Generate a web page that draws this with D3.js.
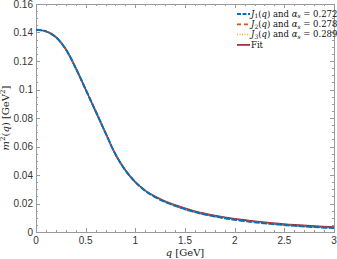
<!DOCTYPE html>
<html>
<head>
<meta charset="utf-8">
<script src="https://cdn.jsdelivr.net/npm/d3@7"></script>
<style>
body { margin: 0; background: #fff; }
text { font-family: "Liberation Sans", Arial, sans-serif; }
.tex { font-family: "DejaVu Serif", "Liberation Serif", serif; }
</style>
</head>
<body>
<script>
// values
var qValues = [0, 0.1, 0.2, 0.3, 0.4, 0.5, 0.6, 0.7, 0.8, 0.9, 1.0, 1.1, 1.2, 1.3, 1.4, 1.5, 1.6, 1.7, 1.8, 1.9, 2.0, 2.2, 2.4, 2.6, 2.8, 3.0];
var j1Values = [0.1419, 0.1408, 0.1368, 0.1282, 0.1150, 0.1000, 0.0848, 0.0695, 0.0545, 0.0433, 0.0350, 0.0289, 0.0245, 0.0211, 0.0184, 0.0160, 0.0140, 0.0123, 0.0109, 0.0097, 0.0086, 0.0069, 0.0055, 0.0044, 0.0035, 0.0028];
var j2Values = [0.1419, 0.1408, 0.1368, 0.1282, 0.1150, 0.1000, 0.0848, 0.0695, 0.0545, 0.0433, 0.0350, 0.0289, 0.0246, 0.0212, 0.0185, 0.0161, 0.0141, 0.0124, 0.0110, 0.0098, 0.0087, 0.0070, 0.0056, 0.0045, 0.0036, 0.0029];
var j3Values = [0.1419, 0.1408, 0.1368, 0.1282, 0.1150, 0.1000, 0.0848, 0.0695, 0.0545, 0.0433, 0.0350, 0.0290, 0.0247, 0.0213, 0.0186, 0.0162, 0.0142, 0.0125, 0.0111, 0.0099, 0.0088, 0.0071, 0.0057, 0.0046, 0.0037, 0.0030];
var fitValues = [0.1419, 0.1408, 0.1368, 0.1282, 0.1150, 0.1000, 0.0848, 0.0695, 0.0545, 0.0433, 0.0351, 0.0291, 0.0249, 0.0216, 0.0189, 0.0166, 0.0146, 0.0129, 0.0115, 0.0103, 0.0092, 0.0075, 0.0061, 0.0050, 0.0041, 0.0034];
var seriesNames = ["J1", "J2", "J3", "Fit"];
var alphaValues = ["0.272", "0.278", "0.289"];
var xTicks = [0, 0.5, 1, 1.5, 2, 2.5, 3];
var yTicks = [0, 0.02, 0.04, 0.06, 0.08, 0.1, 0.12, 0.14, 0.16];

var width = 337, height = 259;
var mLeft = 36, mRight = 334, mTop = 4, mBottom = 232;

var svg = d3.select("body").append("svg")
	.attr("width", width)
	.attr("height", height);

var x = d3.scaleLinear().domain([0, 3]).range([mLeft, mRight]);
var y = d3.scaleLinear().domain([0, 0.16]).range([mBottom, mTop]);

var axisColor = "#9a9a9a";
var labelColor = "#333";

// frame
svg.append("rect")
	.attr("x", mLeft + 0.5).attr("y", mTop + 0.5)
	.attr("width", mRight - mLeft).attr("height", mBottom - mTop)
	.attr("fill", "none").attr("stroke", axisColor).attr("stroke-width", 1);

// ticks (inward, all four sides)
var xMinor = d3.range(0, 3.001, 0.1);
var yMinor = d3.range(0, 0.1601, 0.005);

function tickLines(vals, len, horizontal){
	vals.forEach(function(v){
		if(horizontal){
			var xx = Math.round(x(v)) + 0.5;
			svg.append("line").attr("x1", xx).attr("x2", xx).attr("y1", mBottom).attr("y2", mBottom - len).attr("stroke", axisColor);
			svg.append("line").attr("x1", xx).attr("x2", xx).attr("y1", mTop).attr("y2", mTop + len).attr("stroke", axisColor);
		} else {
			var yy = Math.round(y(v)) + 0.5;
			svg.append("line").attr("x1", mLeft).attr("x2", mLeft + len).attr("y1", yy).attr("y2", yy).attr("stroke", axisColor);
			svg.append("line").attr("x1", mRight).attr("x2", mRight - len).attr("y1", yy).attr("y2", yy).attr("stroke", axisColor);
		}
	});
}
tickLines(xMinor, 2, true);
tickLines(xTicks, 4, true);
tickLines(yMinor, 2, false);
tickLines(yTicks, 4, false);

svg.selectAll("text.xt")
	.data(xTicks)
	.enter()
		.append("text")
		.attr("x", function(d){return x(d)})
		.attr("y", mBottom + 12)
		.attr("text-anchor", "middle")
		.attr("font-size", "10px")
		.attr("fill", labelColor)
		.text(function(d){return d3.format("~g")(d)});

svg.selectAll("text.yt")
	.data(yTicks)
	.enter()
		.append("text")
		.attr("x", mLeft - 3)
		.attr("y", function(d){return y(d)})
		.attr("dy", ".35em")
		.attr("text-anchor", "end")
		.attr("font-size", "10px")
		.attr("fill", labelColor)
		.text(function(d){return d3.format("~g")(d)});

// axis titles
var xl = svg.append("text").attr("class", "tex")
	.attr("x", (mLeft + mRight) / 2).attr("y", 255.5)
	.attr("text-anchor", "middle").attr("font-size", "10px").attr("fill", "#222");
xl.append("tspan").attr("font-style", "italic").text("q");
xl.append("tspan").text(" [GeV]");

var yl = svg.append("text").attr("class", "tex")
	.attr("transform", "translate(9," + ((mTop + mBottom) / 2) + ") rotate(-90)")
	.attr("text-anchor", "middle").attr("font-size", "10px").attr("fill", "#222");
yl.append("tspan").attr("font-style", "italic").text("m");
yl.append("tspan").attr("font-size", "7px").attr("dy", "-4").text("2");
yl.append("tspan").attr("dy", "4").text("(");
yl.append("tspan").attr("font-style", "italic").text("q");
yl.append("tspan").text(") [GeV");
yl.append("tspan").attr("font-size", "7px").attr("dy", "-4").text("2");
yl.append("tspan").attr("dy", "4").text("]");

// curves
var series = [
	{name: seriesNames[3], vals: fitValues, color: "#A2142F", width: 1.6, dash: null},
	{name: seriesNames[2], vals: j3Values, color: "#EDB120", width: 1.5, dash: "1,1.5"},
	{name: seriesNames[1], vals: j2Values, color: "#D95319", width: 1.8, dash: "4,3"},
	{name: seriesNames[0], vals: j1Values, color: "#0072BD", width: 2, dash: "6,1.5"}
];

var line = d3.line()
	.x(function(d){return x(d[0])})
	.y(function(d){return y(d[1])})
	.curve(d3.curveCatmullRom.alpha(0.5));

series.forEach(function(s){
	var pts = qValues.map(function(q, i){return [q, s.vals[i]]});
	svg.append("path")
		.datum(pts)
		.attr("d", line)
		.attr("fill", "none")
		.attr("stroke", s.color)
		.attr("stroke-width", s.width)
		.attr("stroke-dasharray", s.dash);
});

// legend
var legend = [series[3], series[2], series[1], series[0]];
legend.forEach(function(s, i){
	var ly = 14 + i * 10.3;
	svg.append("line")
		.attr("x1", 237).attr("x2", 250).attr("y1", ly).attr("y2", ly)
		.attr("stroke", s.color).attr("stroke-width", s.width)
		.attr("stroke-dasharray", i == 0 ? "4,1.5" : s.dash);
	var t = svg.append("text").attr("class", "tex")
		.attr("x", 251).attr("y", ly).attr("dy", ".33em")
		.attr("font-size", "8.5px").attr("fill", "#111");
	if(i < 3){
		t.append("tspan").attr("font-style", "italic").text("J");
		t.append("tspan").attr("font-size", "6px").attr("dy", "1.5").text(i + 1);
		t.append("tspan").attr("dy", "-1.5").text("(");
		t.append("tspan").attr("font-style", "italic").text("q");
		t.append("tspan").text(") and ");
		t.append("tspan").attr("font-style", "italic").text("α");
		t.append("tspan").attr("font-style", "italic").attr("font-size", "6px").attr("dy", "1.5").text("s");
		t.append("tspan").attr("dy", "-1.5").text(" = " + alphaValues[i]);
	} else {
		t.text("Fit");
	}
});
</script>
</body>
</html>
